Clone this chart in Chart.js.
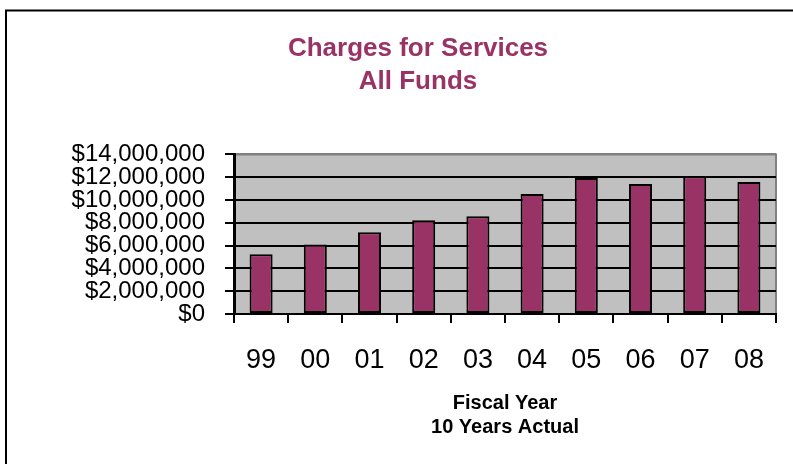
<!DOCTYPE html>
<html>
<head>
<meta charset="utf-8">
<script src="https://cdn.jsdelivr.net/npm/chart.js@4/dist/chart.umd.min.js"></script>
<style>
  body { margin: 0; background: #fff; }
  #wrap { width: 793px; height: 464px; }
</style>
</head>
<body>
<div id="wrap"><canvas id="chargesChart" width="793" height="464"></canvas></div>
<script>
/* Charges for Services, all funds, fiscal years 99-08 */
const fiscalYears = ["99", "00", "01", "02", "03", "04", "05", "06", "07", "08"];
const charges = [5240000, 6110000, 7170000, 8220000, 8570000, 10530000, 11930000, 11400000, 12080000, 11580000];
const yTicks = [0, 2000000, 4000000, 6000000, 8000000, 10000000, 12000000, 14000000];

const FONT = "'Liberation Sans', Arial, sans-serif";

/* gray plot background with darker top/right edge, plus the outer frame */
const plotBackground = {
    id: "plotBackground",
    beforeDraw(chart) {
        const { ctx, chartArea: a } = chart;
        ctx.save();
        ctx.fillStyle = "#c0c0c0";
        ctx.fillRect(a.left, a.top, a.right - a.left, a.bottom - a.top);
        ctx.strokeStyle = "#808080";
        ctx.lineWidth = 2;
        ctx.beginPath();
        ctx.moveTo(a.left, a.top);
        ctx.lineTo(a.right, a.top);
        ctx.lineTo(a.right, a.bottom);
        ctx.stroke();
        ctx.restore();
    },
    afterDraw(chart) {
        const ctx = chart.ctx;
        ctx.save();
        ctx.strokeStyle = "#000";
        ctx.lineWidth = 2;
        ctx.strokeRect(6, 10.5, 1000, 1000);
        ctx.restore();
    }
};

const ctxCharges = document.getElementById("chargesChart").getContext("2d");
const chargesChart = new Chart(ctxCharges, {
    type: "bar",
    data: {
        labels: fiscalYears,
        datasets: [
            {
                label: "Charges for Services",
                data: charges,
                backgroundColor: "#993366",
                borderColor: "#000",
                borderWidth: 2,
                borderSkipped: false,
                barPercentage: 0.425,
                categoryPercentage: 1.0,
            },
        ],
    },
    options: {
        responsive: false,
        animation: false,
        layout: { padding: { left: 60, right: 17, top: 0, bottom: 25 } },
        plugins: {
            legend: { display: false },
            tooltip: { enabled: false },
            title: {
                display: true,
                text: ["Charges for Services", "All Funds"],
                color: "#993366",
                font: { family: FONT, size: 26, weight: "bold", lineHeight: 1.24 },
                padding: { top: 33, bottom: 57 },
            },
        },
        scales: {
            x: {
                afterFit(scale) {
                    scale.height = 125;
                },
                grid: {
                    offset: true,
                    drawOnChartArea: false,
                    tickLength: 9,
                    color: "#000",
                    lineWidth: 2,
                },
                border: { color: "#000", width: 2 },
                ticks: {
                    color: "#000",
                    padding: 21,
                    font: { family: FONT, size: 27 },
                    maxRotation: 0,
                },
                title: {
                    display: true,
                    text: ["Fiscal Year", "10 Years Actual"],
                    color: "#000",
                    font: { family: FONT, size: 20, weight: "bold", lineHeight: 1.2 },
                    padding: { top: 0, bottom: 0 },
                },
            },
            y: {
                min: 0,
                max: 14000000,
                afterBuildTicks(scale) {
                    scale.ticks = yTicks.map((v) => ({ value: v }));
                },
                afterFit(scale) {
                    scale.width = 174;
                },
                grid: {
                    tickLength: 9,
                    lineWidth: 2,
                    tickColor: "#000",
                    color: (c) => (c.tick && c.tick.value === 14000000 ? "#808080" : "#000"),
                },
                border: { color: "#000", width: 3 },
                ticks: {
                    autoSkip: false,
                    color: "#000",
                    padding: 20,
                    font: { family: FONT, size: 24 },
                    callback: (v) => "$" + Number(v).toLocaleString("en-US"),
                },
            },
        },
    },
    plugins: [plotBackground],
});
</script>
</body>
</html>
